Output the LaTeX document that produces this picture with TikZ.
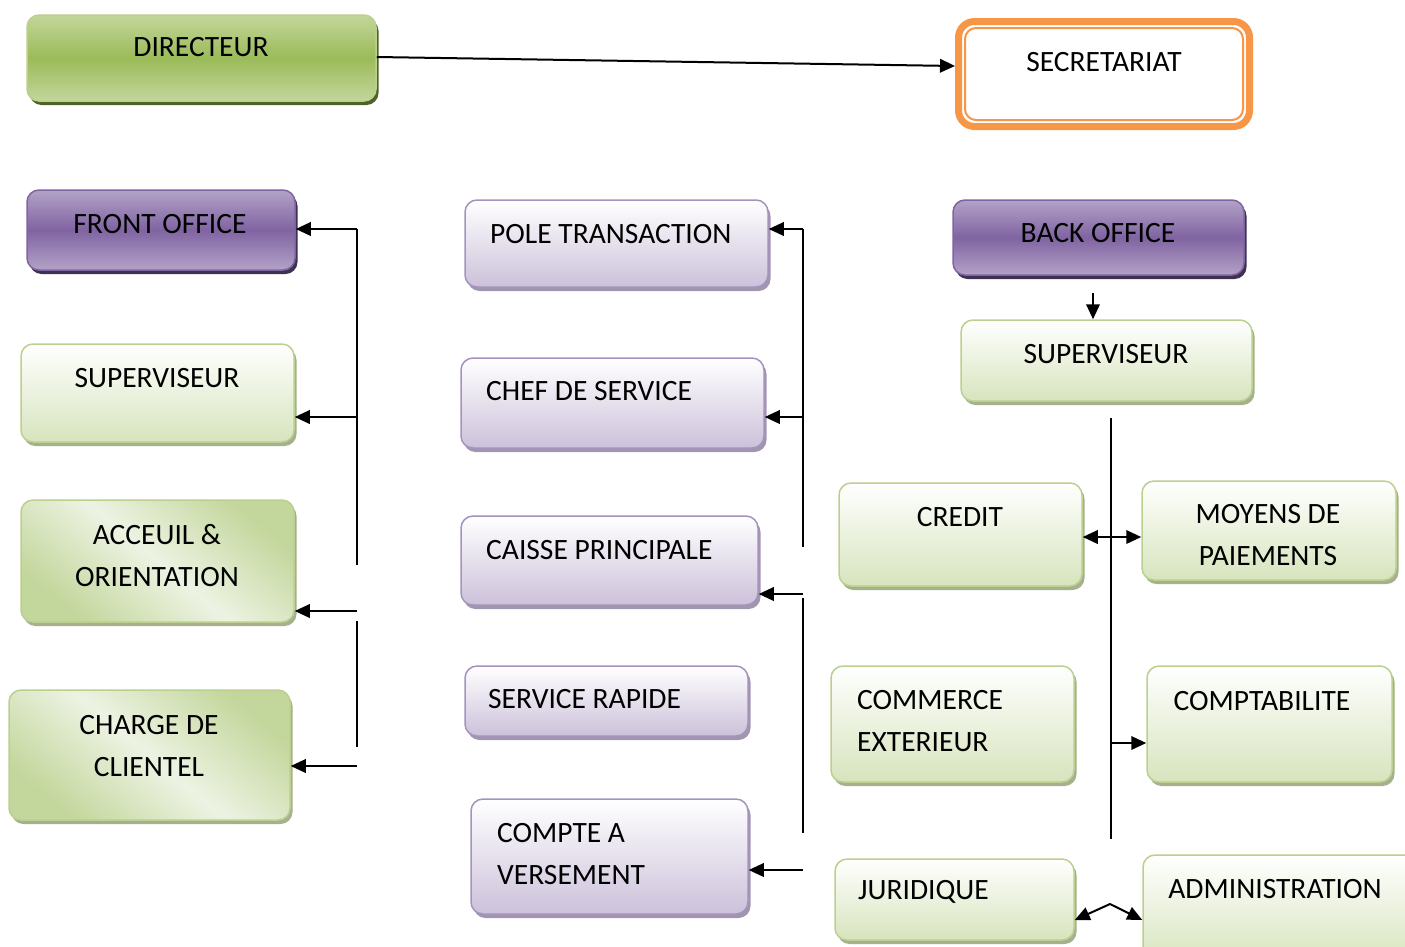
\documentclass[tikz,border=0pt]{standalone}
\usepackage{fontspec}
\setmainfont{Carlito}
\usetikzlibrary{arrows.meta,shadows}

\definecolor{grDark}{HTML}{9BBB59}
\definecolor{grLight}{HTML}{C3D69B}
\definecolor{grPale}{HTML}{D7E4BD}
\definecolor{grMist}{HTML}{EDF3E3}
\definecolor{grLine}{HTML}{BBD08F}
\definecolor{grShadow}{HTML}{A4B08E}
\definecolor{grDeepShadow}{HTML}{4F6228}
\definecolor{puDark}{HTML}{8064A2}
\definecolor{puLight}{HTML}{B3A2C7}
\definecolor{puPale}{HTML}{CCC1DA}
\definecolor{puLine}{HTML}{A593BE}
\definecolor{puShadow}{HTML}{A096AE}
\definecolor{puDeepShadow}{HTML}{3F3151}
\definecolor{orangeLine}{HTML}{F79646}

\tikzset{
  box/.style={rounded corners=12pt, inner sep=0pt, line width=1.5pt},
  % strong green (director)
  chiefbox/.style={box, draw=grLine, top color=grLight, bottom color=grLight, middle color=grDark,
    drop shadow={shadow xshift=2.5pt, shadow yshift=-4pt, fill=grDeepShadow, opacity=1}},
  % strong purple (offices)
  officebox/.style={box, draw=puDark, top color=puLight, bottom color=puLight, middle color=puDark,
    drop shadow={shadow xshift=2.5pt, shadow yshift=-4pt, fill=puDeepShadow, opacity=1}},
  % pale green, white at the top
  greenbox/.style={box, draw=grLine, top color=white, bottom color=grPale,
    drop shadow={shadow xshift=2.5pt, shadow yshift=-4pt, fill=grShadow, opacity=1}},
  % pale green, diagonal sheen
  sheenbox/.style={box, draw=grLine, top color=grLight, bottom color=grLight, middle color=grMist,
    shading angle=-40,
    drop shadow={shadow xshift=2.5pt, shadow yshift=-4pt, fill=grShadow, opacity=1}},
  % pale purple, white at the top
  purplebox/.style={box, draw=puLine, top color=white, bottom color=puPale,
    drop shadow={shadow xshift=2.5pt, shadow yshift=-4pt, fill=puShadow, opacity=1}},
  lbl/.style={font=\fontsize{29.5}{42}\selectfont, inner sep=0pt, align=center},
  lblleft/.style={lbl, anchor=west, align=left},
  link/.style={line width=2pt},
  arr/.style={link, -{Triangle[length=15pt,width=13.5pt]}},
  dblarr/.style={link, {Triangle[length=15pt,width=13.5pt]}-{Triangle[length=15pt,width=13.5pt]}},
}

\begin{document}
\begin{tikzpicture}[x=1pt, y=-1pt]
\useasboundingbox (0,0) rectangle (1405,946);

% ---- top row ----
\node[chiefbox, minimum width=349pt, minimum height=86pt] (dir) at (201.5,58) {};
\node[lbl] (dir-t) at (201,47.5) {DIRECTEUR};

\node[box, draw=orangeLine, line width=7pt, fill=white, rounded corners=16pt,
      minimum width=291pt, minimum height=105pt] (sec) at (1104,74) {};
\node[box, draw=orangeLine, line width=2pt, rounded corners=11pt,
      minimum width=278pt, minimum height=92pt] (sec-in) at (1104,74) {};
\node[lbl] (sec-t) at (1104,62) {SECRETARIAT};

\draw[arr] ([yshift=1pt]dir.east) -- ([yshift=8pt]sec.west);

% ---- front office column ----
\node[officebox, minimum width=268pt, minimum height=80pt] (fo) at (161,230) {};
\node[lbl] (fo-t) at (160,224) {FRONT OFFICE};

\node[greenbox, minimum width=273pt, minimum height=98pt] (supl) at (157.5,393) {};
\node[lbl] (supl-t) at (157,378) {SUPERVISEUR};

\node[sheenbox, minimum width=273pt, minimum height=122pt] (acc) at (157.5,561) {};
\node[lbl] (acc-t) at (157,556) {ACCEUIL \&\\ORIENTATION};

\node[sheenbox, minimum width=281pt, minimum height=130pt] (cdc) at (149.5,755) {};
\node[lbl] (cdc-t) at (149,746) {CHARGE DE\\CLIENTEL};

\coordinate (fa) at (357,229);
\coordinate (fb) at (357,417);
\coordinate (fc) at (357,565);
\coordinate (fd) at (357,611);
\coordinate (fe) at (357,621);
\coordinate (ff) at (357,747);
\coordinate (fg) at (357,766);
\draw[link] (fa) -- (fc);
\draw[link] (fe) -- (ff);
\draw[arr] (fa) -- (fa -| fo.east);
\draw[arr] (fb) -- (fb -| supl.east);
\draw[arr] (fd) -- (fd -| acc.east);
\draw[arr] (fg) -- (fg -| cdc.east);

% ---- transaction column ----
\node[purplebox, minimum width=303pt, minimum height=87pt] (pole) at (616.5,243.5) {};
\node[lblleft] (pole-t) at (490,234) {POLE TRANSACTION};

\node[purplebox, minimum width=303pt, minimum height=90pt] (chef) at (612.5,403) {};
\node[lblleft] (chef-t) at (486,391) {CHEF DE SERVICE};

\node[purplebox, minimum width=297pt, minimum height=89pt] (caisse) at (609.5,560.5) {};
\node[lblleft] (caisse-t) at (486,550) {CAISSE PRINCIPALE};

\node[purplebox, minimum width=283pt, minimum height=70pt] (rapide) at (606.5,701) {};
\node[lblleft] (rapide-t) at (488,699) {SERVICE RAPIDE};

\node[purplebox, minimum width=277pt, minimum height=115pt] (cav) at (609.5,856.5) {};
\node[lblleft] (cav-t) at (497,854) {COMPTE A\\VERSEMENT};

\coordinate (ma) at (803,229);
\coordinate (mb) at (803,417);
\coordinate (mc) at (803,547);
\coordinate (md) at (803,594);
\coordinate (me) at (803,598);
\coordinate (mf) at (803,833);
\coordinate (mg) at (803,870);
\draw[link] (ma) -- (mc);
\draw[link] (me) -- (mf);
\draw[arr] (ma) -- (ma -| pole.east);
\draw[arr] (mb) -- (mb -| chef.east);
\draw[arr] (md) -- (md -| caisse.east);
\draw[arr] (mg) -- (mg -| cav.east);

% ---- back office column ----
\node[officebox, minimum width=291pt, minimum height=75pt] (bo) at (1098.5,237.5) {};
\node[lbl] (bo-t) at (1098,233) {BACK OFFICE};

\node[greenbox, minimum width=291pt, minimum height=81pt] (supr) at (1106.5,360.5) {};
\node[lbl] (supr-t) at (1106,354) {SUPERVISEUR};

\coordinate (bs) at (1093,293);
\draw[arr] (bs) -- (bs |- supr.north);

\node[greenbox, minimum width=243pt, minimum height=103pt] (credit) at (960.5,534.5) {};
\node[lbl] (credit-t) at (960,517) {CREDIT};

\node[greenbox, minimum width=254pt, minimum height=99pt] (moy) at (1269,530.5) {};
\node[lbl] (moy-t) at (1268,535) {MOYENS DE\\PAIEMENTS};

\node[greenbox, minimum width=243pt, minimum height=116pt] (comext) at (952.5,724) {};
\node[lblleft] (comext-t) at (857,721.5) {COMMERCE\\EXTERIEUR};

\node[greenbox, minimum width=245pt, minimum height=116pt] (compta) at (1269.5,724) {};
\node[lbl] (compta-t) at (1262,701) {COMPTABILITE};

\node[greenbox, minimum width=239pt, minimum height=81pt] (jur) at (954.5,899.5) {};
\node[lblleft] (jur-t) at (858,892) {JURIDIQUE};

\node[greenbox, minimum width=277pt, minimum height=110pt] (admin) at (1281.5,910) {};
\node[lbl] (admin-t) at (1275,889) {ADMINISTRATION};

\coordinate (ba) at (1111,418);
\coordinate (bb) at (1111,537);
\coordinate (bc) at (1111,743);
\coordinate (bd) at (1111,839);
\coordinate (peak) at (1110,904);
\draw[link] (ba) -- (bd);
\draw[dblarr] (bb -| credit.east) -- (bb -| moy.west);
\draw[arr] (bc) -- (bc -| compta.west);
\draw[dblarr] ([yshift=-20.5pt]jur.east) -- (peak) -- ([yshift=-10pt]admin.west);
\end{tikzpicture}
\end{document}
